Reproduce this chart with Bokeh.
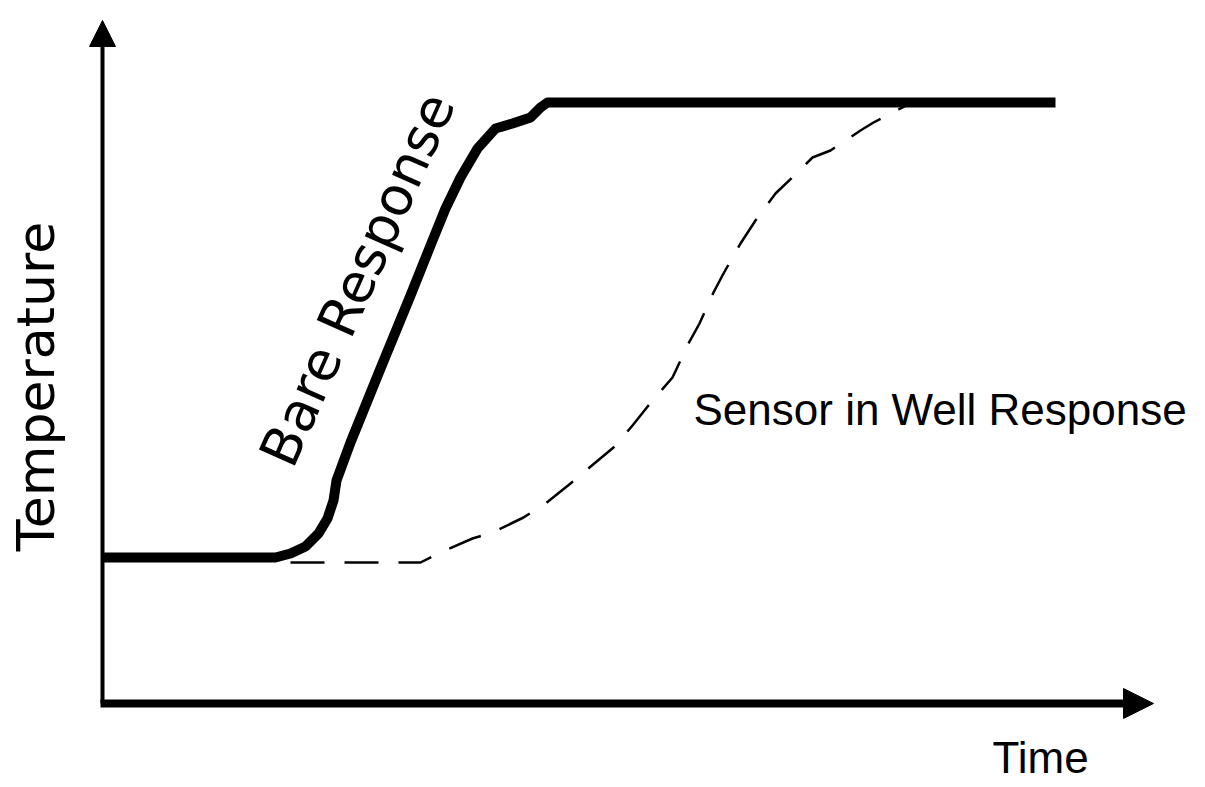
from bokeh.plotting import figure
from bokeh.models import Range1d, Arrow, NormalHead
from bokeh.core.properties import value
from bokeh.embed import file_html
from bokeh.resources import INLINE

# Bare (unprotected) sensor response: time vs temperature (arbitrary units)
bare_time = [0.0, 17.3, 18.8, 20.3, 21.6, 22.5, 23.1, 23.4, 24.8, 27.8, 30.8, 32.8,
             34.3, 35.8, 37.5, 39.3, 41.0, 42.8, 43.8, 44.5, 95.3]
bare_temp = [14.6, 14.6, 15.0, 15.7, 17.0, 18.5, 20.3, 22.3, 26.1, 33.5, 40.8, 45.8,
             49.5, 52.6, 55.5, 57.5, 58.0, 58.6, 59.6, 60.1, 60.1]

# Sensor in thermowell response
well_time = [18.8, 31.8, 34.0, 37.0, 39.0, 42.1, 44.3, 46.8, 48.7, 51.1, 53.0, 55.0,
             57.0, 58.6, 59.7, 61.1, 62.1, 63.8, 65.3, 67.3, 69.3, 71.0, 72.8, 75.8,
             77.1, 79.6, 80.6]
well_temp = [14.1, 14.1, 15.2, 16.5, 17.1, 18.6, 20.0, 22.0, 23.6, 25.6, 27.8, 30.3,
             32.6, 36.0, 38.0, 41.1, 43.0, 46.0, 48.3, 51.0, 52.9, 54.6, 55.3, 57.3,
             58.1, 59.4, 59.9]

x_label = "Time"
y_label = "Temperature"
bare_label = "Bare Response"
well_label = "Sensor in Well Response"

W, H = 1204, 786
p = figure(width=W, height=H, output_backend="svg", toolbar_location=None,
           x_axis_type=None, y_axis_type=None,
           x_range=Range1d(-10.2, -10.2 + W / 10), y_range=Range1d(70.3 - H / 10, 70.3),
           min_border=0, min_border_left=0, min_border_right=0,
           min_border_top=0, min_border_bottom=0)
p.outline_line_color = None
p.background_fill_color = "white"
p.border_fill_color = "white"

# Axes drawn as arrows
p.add_layout(Arrow(end=NormalHead(size=26, fill_color="black", line_color="black"),
                   x_start=0, y_start=0, x_end=0, y_end=68.3,
                   line_width=4, line_color="black"))
p.add_layout(Arrow(end=NormalHead(size=30, fill_color="black", line_color="black"),
                   x_start=-0.2, y_start=0, x_end=105.1, y_end=0,
                   line_width=8, line_color="black"))

# Curves
p.line(well_time, well_temp, line_color="black", line_width=2.5, line_dash="34 20")
p.line(bare_time, bare_temp, line_color="black", line_width=10, line_join="round")

# Labels
p.text(x=[-6.7], y=[31.7], text=[y_label], angle=90, angle_units="deg",
       text_font=value("DejaVu Sans"), text_font_size="52px",
       text_align="center", text_baseline="alphabetic", text_color="black")
p.text(x=[89.0], y=[-5.4], text=[x_label],
       text_font=value("Liberation Sans"), text_font_size="44px",
       text_align="left", text_baseline="alphabetic", text_color="black")
p.text(x=[59.1], y=[29.4], text=[well_label],
       text_font=value("Liberation Sans"), text_font_size="44px",
       text_align="left", text_baseline="alphabetic", text_color="black")
p.text(x=[25.5], y=[42.4], text=[bare_label], angle=66, angle_units="deg",
       text_font=value("DejaVu Sans"), text_font_size="54px",
       text_align="center", text_baseline="middle", text_color="black")

open("out.html", "w").write(file_html(p, INLINE))
